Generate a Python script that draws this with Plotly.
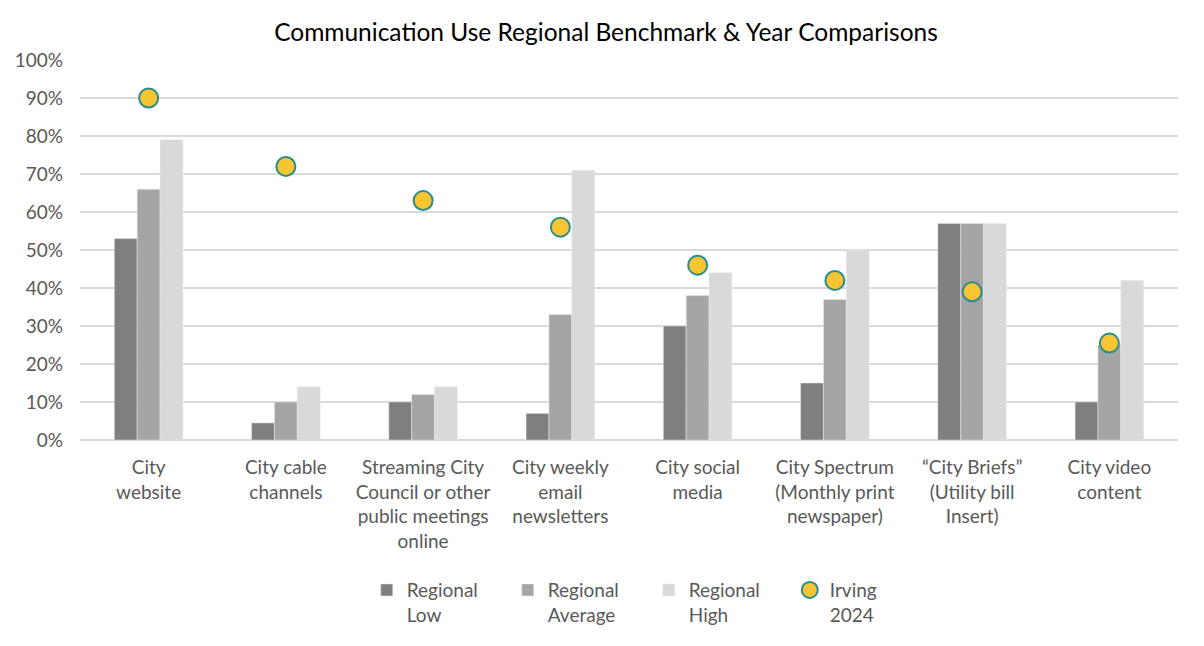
import plotly.graph_objects as go

categories = [
    "City<br>website",
    "City cable<br>channels",
    "Streaming City<br>Council or other<br>public meetings<br>online",
    "City weekly<br>email<br>newsletters",
    "City social<br>media",
    "City Spectrum<br>(Monthly print<br>newspaper)",
    "\u201cCity Briefs\u201d<br>(Utility bill<br>Insert)",
    "City video<br>content",
]
regional_low = [0.53, 0.045, 0.10, 0.07, 0.30, 0.15, 0.57, 0.10]
regional_avg = [0.66, 0.10, 0.12, 0.33, 0.38, 0.37, 0.57, 0.25]
regional_high = [0.79, 0.14, 0.14, 0.71, 0.44, 0.50, 0.57, 0.42]
irving_2024 = [0.90, 0.72, 0.63, 0.56, 0.46, 0.42, 0.39, 0.255]

FONT = "Lato, 'Open Sans', sans-serif"
TEXT = "#595959"

# page body has an 8px margin, so the figure is a little smaller than the window
W, H = 1196, 638

fig = go.Figure()

fig.add_trace(go.Bar(x=categories, y=regional_low, name="Regional<br>Low",
                     marker=dict(color="#7f7f7f")))
fig.add_trace(go.Bar(x=categories, y=regional_avg, name="Regional<br>Average",
                     marker=dict(color="#a5a5a5")))
fig.add_trace(go.Bar(x=categories, y=regional_high, name="Regional<br>High",
                     marker=dict(color="#d9d9d9")))
fig.add_trace(go.Scatter(
    x=categories, y=irving_2024, name="Irving<br>2024", mode="markers",
    marker=dict(size=19, color="#f7c531", line=dict(color="#2a8c8c", width=2)),
))

fig.update_layout(
    title=dict(text="Communication Use Regional Benchmark & Year Comparisons",
               x=0.5, xanchor="center", y=1 - 24 / H, yanchor="middle",
               font=dict(family=FONT, size=24.5, color="#000000")),
    width=W, height=H,
    margin=dict(l=72, r=26, t=52, b=206, autoexpand=False),
    paper_bgcolor="white", plot_bgcolor="white",
    barmode="group", bargap=0.5, bargroupgap=0,
    font=dict(family=FONT, size=19, color=TEXT),
    showlegend=True,
    legend=dict(orientation="h", x=0.518, xanchor="center", y=-0.345, yanchor="top",
                entrywidth=96, valign="top", itemclick=False,
                font=dict(family=FONT, size=19, color=TEXT)),
)

fig.update_yaxes(range=[0, 1.0], dtick=0.1, tickformat=".0%",
                 gridcolor="#d9d9d9", gridwidth=1.5, zeroline=True,
                 zerolinecolor="#d9d9d9", zerolinewidth=1.5,
                 ticks="", showline=False, automargin=False, ticklabelstandoff=16,
                 tickfont=dict(family=FONT, size=19, color=TEXT))
fig.update_xaxes(showgrid=False, ticks="", showline=False, tickangle=0,
                 automargin=False, ticklabelstandoff=14,
                 tickfont=dict(family=FONT, size=19, color=TEXT))

fig.write_html("out.html")
